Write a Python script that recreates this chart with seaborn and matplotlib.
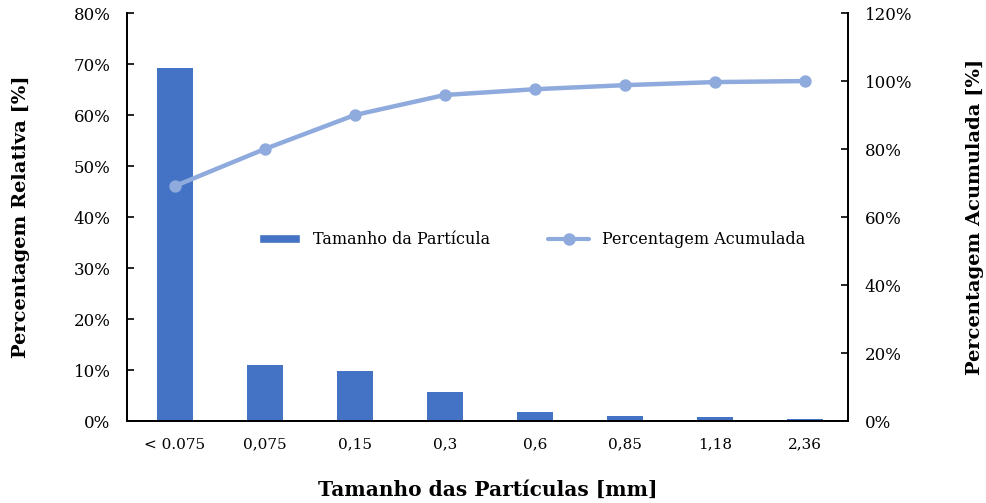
import matplotlib
matplotlib.use("Agg")
import matplotlib.pyplot as plt
import pandas as pd
import seaborn as sns
from matplotlib.patches import Patch
from matplotlib.lines import Line2D
from matplotlib.ticker import PercentFormatter

# data
sizes = ['< 0.075', '0,075', '0,15', '0,3', '0,6', '0,85', '1,18', '2,36']
relative = [69.2, 10.9, 9.8, 5.7, 1.8, 1.0, 0.8, 0.4]
cumulative = [69.1, 80.0, 90.0, 95.9, 97.6, 98.8, 99.7, 100.0]

BAR_COLOR = '#4472C4'
LINE_COLOR = '#8FAADC'

df = pd.DataFrame({'Tamanho': sizes, 'Relativa': relative, 'Acumulada': cumulative})

sns.set_theme(style="white")
plt.rcParams['font.family'] = ['DejaVu Serif']
plt.rcParams['text.color'] = 'black'
plt.rcParams['axes.labelcolor'] = 'black'

fig = plt.figure(figsize=(9.86, 5.03), dpi=100)
ax = fig.add_axes([0.1288, 0.163, 0.7312, 0.811])

sns.barplot(ax=ax, data=df, x='Tamanho', y='Relativa', color=BAR_COLOR,
            width=0.4, saturation=1, edgecolor='none')
ax.set_ylim(0, 80)
ax.set_yticks(range(0, 81, 10))
ax.yaxis.set_major_formatter(PercentFormatter(decimals=0))

ax2 = ax.twinx()
sns.pointplot(ax=ax2, data=df, x='Tamanho', y='Acumulada', color=LINE_COLOR,
              markers='o', linestyles='-', markersize=6.5, linewidth=3.2)
ax2.set_ylim(0, 120)
ax2.set_yticks(range(0, 121, 20))
ax2.yaxis.set_major_formatter(PercentFormatter(decimals=0))

for a in (ax, ax2):
    a.set_xlim(-0.53, 7.48)
    a.spines['top'].set_visible(False)
    for s in ('left', 'right', 'bottom'):
        a.spines[s].set_color('black')
        a.spines[s].set_linewidth(1.3)
    a.tick_params(axis='x', length=0, labelsize=11, pad=12, colors='black')
    a.grid(False)
ax.tick_params(axis='y', which='both', direction='in', left=True, right=False,
               length=5, width=1.2, colors='black', labelsize=12, pad=12)
ax2.tick_params(axis='y', which='both', direction='in', right=True, left=False,
                length=5, width=1.2, colors='black', labelsize=12, pad=12)

ax.set_xlabel('Tamanho das Partículas [mm]', fontsize=14.5, fontweight='bold', labelpad=20)
ax.set_ylabel('Percentagem Relativa [%]', fontsize=14, fontweight='bold', labelpad=31)
ax2.set_ylabel('Percentagem Acumulada [%]', fontsize=14, fontweight='bold', labelpad=39)

handles = [Patch(facecolor=BAR_COLOR), Line2D([], [], color=LINE_COLOR, lw=3, marker='o', markersize=8)]
ax2.legend(handles, ['Tamanho da Partícula', 'Percentagem Acumulada'],
           loc='center', bbox_to_anchor=(0.562, 0.444), ncol=2, frameon=False,
           fontsize=11.5, handlelength=2.6, handleheight=0.45, handletextpad=0.8,
           columnspacing=3.6)

fig.savefig('out.png', dpi=100)
